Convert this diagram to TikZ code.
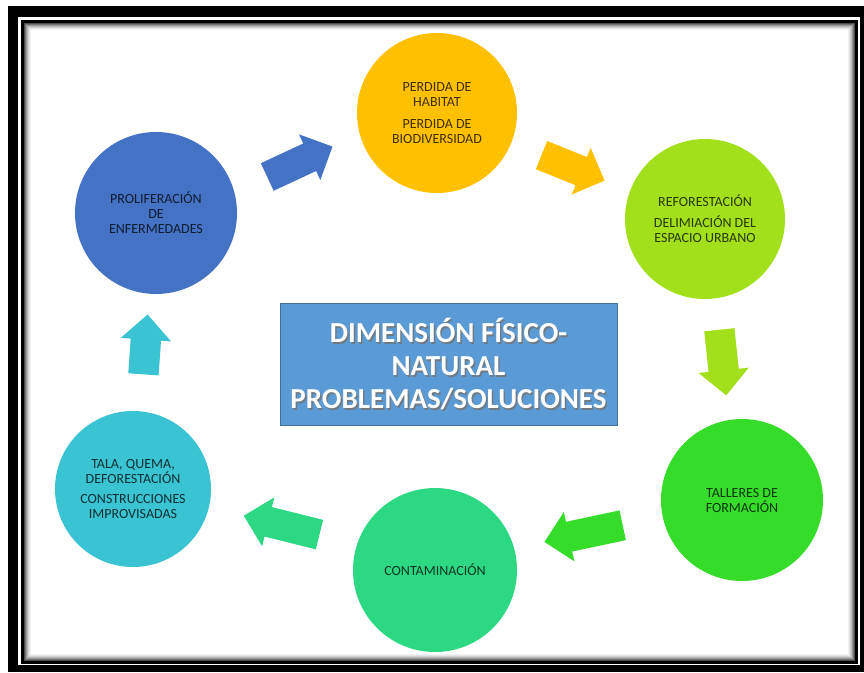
\documentclass[tikz,border=0pt]{standalone}
\usepackage{fontspec}
\setmainfont{Carlito}
\usepackage{tikz}
\usetikzlibrary{shapes.arrows, positioning}

\definecolor{cblue}{HTML}{4472C4}
\definecolor{corange}{HTML}{FFC000}
\definecolor{clime}{HTML}{A2E01C}
\definecolor{cgreen}{HTML}{35DD2A}
\definecolor{cmint}{HTML}{2DD883}
\definecolor{ccyan}{HTML}{3AC3D2}
\definecolor{cbox}{HTML}{5B9BD5}
\definecolor{cboxline}{HTML}{41719C}

\begin{document}
\begin{tikzpicture}[x=1pt, y=-1pt,
        stage/.style={circle, fill=#1, minimum size=160pt, inner sep=0pt, align=center,
            text=#1!25!black, font=\fontsize{14}{15}\selectfont},
        flow/.style={single arrow, fill=#1, draw=none, inner sep=0pt, inner ysep=15pt,
            minimum width=0pt, single arrow head extend=10pt, minimum height=70pt},
        titletext/.style={align=center, font=\fontsize{29}{33}\selectfont\bfseries}]
        \fill[white] (0,0) rectangle (864,672);
        \useasboundingbox (0,0) rectangle (864,672);
        % frame
        \fill[black] (8,6) rectangle (864,672);
        \fill[white] (18,17) rectangle (860,665);
        \fill[black] (21,20) rectangle (858,664);
        \fill[white] (24,23) rectangle (855,661);
        \foreach \i/\s in {0/70,1/55,2/40,3/28,4/18,5/10,6/5}
            \draw[black!\s, line width=1pt] (24.5+\i,23.5+\i) rectangle (854.5-\i,660.5-\i);

        % stages
        \node[stage=cblue, minimum size=162pt] (enferm) at (156,213)
            {PROLIFERACIÓN\\DE\\ENFERMEDADES};
        \node[stage=corange] (habitat) at (437,113)
            {PERDIDA DE\\HABITAT\\[7pt]PERDIDA DE\\BIODIVERSIDAD};
        \node[stage=clime] (reforest) at (705,219)
            {REFORESTACIÓN\\[6pt]DELIMIACIÓN DEL\\ESPACIO URBANO};
        \node[stage=cgreen, minimum size=162pt] (talleres) at (742,500)
            {TALLERES DE\\FORMACIÓN};
        \node[stage=cmint, minimum size=164pt] (contam) at (435,570)
            {CONTAMINACIÓN};
        \node[stage=ccyan, minimum size=156pt] (tala) at (133,489)
            {TALA, QUEMA,\\DEFORESTACIÓN\\[5pt]CONSTRUCCIONES\\IMPROVISADAS};

        % arrows
        \node[flow=cblue, rotate=25, minimum height=72pt] (arrowA) at (293,165) {};
        \node[flow=corange, rotate=-22, minimum height=68pt] (arrowB) at (566,165) {};
        \node[flow=clime, rotate=-84, minimum height=66pt] (arrowC) at (722,355) {};
        \node[flow=cgreen, rotate=192, minimum height=80pt] (arrowD) at (591,532) {};
        \node[flow=cmint, rotate=166, minimum height=78pt] (arrowE) at (289,527) {};
        \node[flow=ccyan, rotate=86, minimum height=60pt] (arrowF) at (145,352) {};

        % title
        \node[draw=cboxline, fill=cbox, line width=1pt, minimum width=337pt,
            minimum height=122pt] (box) at (448.5,364) {};
        \node[titletext, text=black!55, opacity=0.8] (titleshadow)
            at ([xshift=1.5pt, yshift=-1.5pt]box.center)
            {DIMENSIÓN FÍSICO-\\NATURAL\\PROBLEMAS/SOLUCIONES};
        \node[titletext, text=white] (title) at (box.center)
            {DIMENSIÓN FÍSICO-\\NATURAL\\PROBLEMAS/SOLUCIONES};
    \end{tikzpicture}
\end{document}
